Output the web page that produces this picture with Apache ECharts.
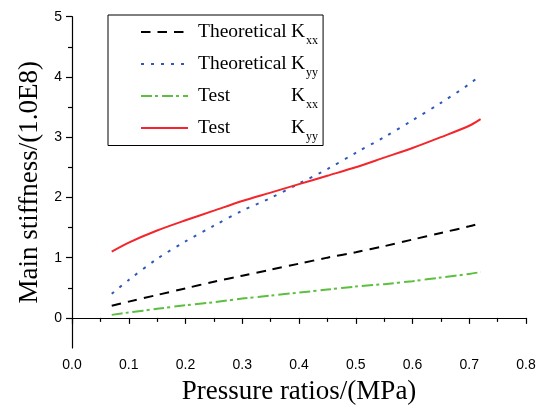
<!DOCTYPE html>
<html>
<head>
<meta charset="utf-8">
<script src="https://cdn.jsdelivr.net/npm/echarts@6/dist/echarts.min.js"></script>
<style>
html,body{margin:0;padding:0;background:#fff;}
#c{width:541px;height:410px;}
</style>
</head>
<body>
<div id="c"></div>
<script>
// ---- data ----
var pressure = [0.07, 0.1, 0.15, 0.2, 0.25, 0.3, 0.35, 0.4, 0.45, 0.5, 0.55, 0.6, 0.65, 0.7, 0.72];
var theoKxx = [0.20, 0.27, 0.38, 0.49, 0.60, 0.70, 0.80, 0.90, 1.00, 1.09, 1.19, 1.30, 1.41, 1.52, 1.57];
var theoKyy = [0.40, 0.63, 0.98, 1.27, 1.53, 1.78, 1.99, 2.23, 2.47, 2.74, 3.00, 3.28, 3.57, 3.88, 4.03];
var testKxx = [0.05, 0.09, 0.15, 0.21, 0.26, 0.32, 0.37, 0.42, 0.47, 0.52, 0.56, 0.61, 0.67, 0.73, 0.76];
var testKyy = [1.10, 1.25, 1.45, 1.62, 1.78, 1.94, 2.08, 2.22, 2.36, 2.50, 2.66, 2.82, 3.00, 3.19, 3.30];
var seriesNames = ['Theoretical Kxx', 'Theoretical Kyy', 'Test Kxx', 'Test Kyy'];
var legendHeads = ['Theoretical', 'Theoretical', 'Test', 'Test'];
var legendSubs = ['xx', 'yy', 'xx', 'yy'];
var xTicks = [0, 0.1, 0.2, 0.3, 0.4, 0.5, 0.6, 0.7, 0.8];
var yMajorTicks = [0, 1, 2, 3, 4, 5];
var yMinorTicks = [0.5, 1.5, 2.5, 3.5, 4.5];
var xTitle = 'Pressure ratios/(MPa)';
var yTitle = 'Main stiffness/(1.0E8)';

function pairs(ys) { return pressure.map(function (x, i) { return [x, ys[i]]; }); }

var serif = '"Liberation Serif", "Times New Roman", serif';
var sans = '"Liberation Sans", Arial, sans-serif';

var chart = echarts.init(document.getElementById('c'), null, {renderer: 'canvas'});

var styles = [
  {color: '#000000', type: [9.5, 7], width: 2},
  {color: '#2f58b8', type: [3, 7], width: 2},
  {color: '#5cbf40', type: [11, 3, 3, 4], width: 2},
  {color: '#f2262b', type: 'solid', width: 2}
];
var datas = [theoKxx, theoKyy, testKxx, testKyy];

var series = seriesNames.map(function (n, i) {
  return {
    name: n, type: 'line', data: pairs(datas[i]), smooth: 0.3,
    symbol: 'none', showSymbol: false,
    lineStyle: styles[i], itemStyle: {color: styles[i].color},
    emphasis: {disabled: true}, animation: false
  };
});

var option = {
  animation: false,
  backgroundColor: '#fff',
  grid: {left: 72, right: 15, top: 16.7, bottom: 57.3, containLabel: false},
  legend: {
    orient: 'vertical', left: 108, top: 15,
    padding: [7, 5, 3, 32],
    borderColor: '#000', borderWidth: 1, backgroundColor: '#fff',
    itemWidth: 47, itemHeight: 12, itemGap: 7.5,
    itemStyle: {opacity: 0, borderWidth: 0},
    data: seriesNames,
    selectedMode: false,
    formatter: function (name) {
      var i = seriesNames.indexOf(name);
      return '{h|' + legendHeads[i] + '}{k|K}{s|' + legendSubs[i] + '}';
    },
    textStyle: {
      color: '#000',
      rich: {
        h: {fontFamily: serif, fontSize: 19.5, color: '#000', width: 93, padding: [0, 0, 0, 5]},
        k: {fontFamily: serif, fontSize: 19.5, color: '#000'},
        s: {fontFamily: serif, fontSize: 12, color: '#000', padding: [17, 0, 0, 1]}
      }
    }
  },
  xAxis: {
    type: 'value', min: 0, max: 0.8, interval: 0.1,
    name: xTitle, nameLocation: 'middle', nameGap: 30,
    nameTextStyle: {fontFamily: serif, fontSize: 27, color: '#000'},
    axisLine: {show: true, lineStyle: {color: '#000', width: 1.2}},
    axisTick: {show: true, inside: false, length: 6, lineStyle: {color: '#000', width: 1.2}},
    minorTick: {show: true, splitNumber: 2, length: 4, lineStyle: {color: '#000', width: 1.2}},
    splitLine: {show: false},
    axisLabel: {
      fontFamily: sans, fontSize: 14, color: '#000', margin: 10,
      formatter: function (v) { return v.toFixed(1); },
      customValues: xTicks
    }
  },
  yAxis: [
    {
      type: 'value', min: -0.5, max: 5, interval: 0.5, position: 'left',
      name: yTitle, nameLocation: 'middle', nameGap: 28,
      nameTextStyle: {fontFamily: serif, fontSize: 27, color: '#000'},
      axisLine: {show: true, lineStyle: {color: '#000', width: 1.2}},
      axisTick: {show: true, length: 6, customValues: yMajorTicks, lineStyle: {color: '#000', width: 1.2}},
      splitLine: {show: false},
      axisLabel: {
        fontFamily: sans, fontSize: 14, color: '#000', margin: 10,
        customValues: yMajorTicks,
        formatter: function (v) { return String(v); }
      }
    },
    {
      type: 'value', min: -0.5, max: 5, interval: 0.5, position: 'left',
      axisLine: {show: false},
      axisTick: {show: true, length: 4, customValues: yMinorTicks, lineStyle: {color: '#000', width: 1.2}},
      splitLine: {show: false},
      axisLabel: {show: false}
    }
  ],
  series: series
};
chart.setOption(option);
</script>
</body>
</html>
